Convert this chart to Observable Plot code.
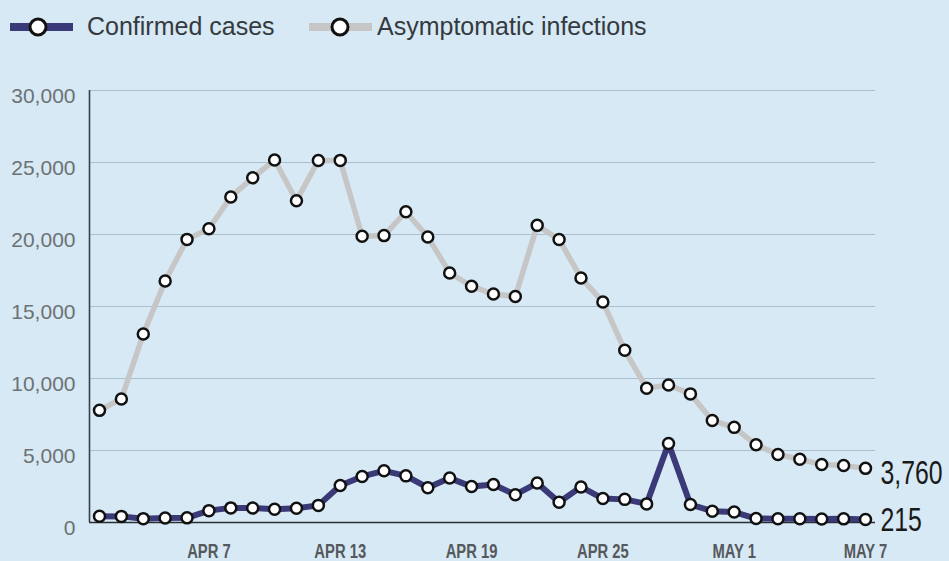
<!DOCTYPE html>
<html>
<head>
<meta charset="utf-8">
<script src="https://cdn.jsdelivr.net/npm/d3@7"></script>
<script src="https://cdn.jsdelivr.net/npm/@observablehq/plot@0.6"></script>
<style>
  html, body { margin: 0; padding: 0; background: #d6e9f4; }
  body { width: 949px; height: 561px; overflow: hidden; font-family: "Liberation Sans", Arial, sans-serif; }
  #legend { height: 55px; position: relative; }
  .item { position: absolute; top: 12px; display: flex; align-items: center; font-size: 25px; color: #353a40; }
  #chart svg { display: block; }
</style>
</head>
<body>
<div id="legend"></div>
<div id="chart"></div>
<script>
// Dates (categories): Apr 2 – May 7, 2022
const startDate = "2022-04-02";
const endDate = "2022-05-07";
const dates = d3.utcDay.range(new Date(startDate), d3.utcDay.offset(new Date(endDate), 1));

// Series values
const asymptomatic = [7788, 8581, 13086, 16766, 19660, 20398, 22609, 23937, 25173, 22348,
  25141, 25146, 19872, 19923, 21582, 19831, 17332, 16407, 15861, 15698,
  20634, 19657, 16983, 15319, 11956, 9330, 9545, 8932, 7084, 6606,
  5395, 4722, 4390, 4024, 3961, 3760];
const confirmed = [438, 425, 268, 311, 322, 824, 1015, 1006, 914, 994,
  1189, 2573, 3200, 3590, 3238, 2417, 3084, 2494, 2634, 1931,
  2736, 1401, 2472, 1661, 1606, 1292, 5487, 1249, 788, 727,
  274, 260, 261, 245, 253, 215];

// Tick labels
const yTicks = [0, 5000, 10000, 15000, 20000, 25000, 30000];
const xTickDates = ["2022-04-07", "2022-04-13", "2022-04-19", "2022-04-25", "2022-05-01", "2022-05-07"];
const xTickLabels = ["APR 7", "APR 13", "APR 19", "APR 25", "MAY 1", "MAY 7"];

const seriesNames = ["Confirmed cases", "Asymptomatic infections"];
const seriesColors = ["#3b3a78", "#c6c6c6"];

const rows = dates.map((d, i) => ({date: d, asym: asymptomatic[i], conf: confirmed[i]}));
const last = rows[rows.length - 1];
const xTicks = xTickDates.map(s => new Date(s));
const fmt = d3.format(",");

// Legend
const legend = document.getElementById("legend");
const legendX = [10, 309];
const legendGap = [14, 5];
const legendCx = [28, 31];
seriesNames.forEach((name, i) => {
  const div = document.createElement("div");
  div.className = "item";
  div.style.left = legendX[i] + "px";
  div.innerHTML = `<svg width="63" height="24" style="margin-right:${legendGap[i]}px"><line x1="0" x2="63" y1="12" y2="12" stroke="${seriesColors[i]}" stroke-width="8"/><circle cx="${legendCx[i]}" cy="12" r="8" fill="white" stroke="#111" stroke-width="3"/></svg><span>${name}</span>`;
  legend.appendChild(div);
});

const plot = Plot.plot({
  width: 949,
  height: 506,
  marginLeft: 89,
  marginRight: 74,
  marginTop: 35,
  marginBottom: 39,
  style: {background: "transparent", fontFamily: "'Liberation Sans', Arial, sans-serif"},
  x: {type: "utc", domain: [new Date(startDate), new Date(endDate)], inset: 10},
  y: {domain: [0, 30000]},
  marks: [
    Plot.ruleY(yTicks.filter(d => d > 0), {stroke: "#a9bfcd", strokeWidth: 1.2}),
    Plot.ruleY([0], {stroke: "#2a2f33", strokeWidth: 1.6}),
    Plot.ruleX([new Date(startDate)], {y1: 0, y2: 30000, dx: -10, stroke: "#3a4047", strokeWidth: 1.6}),
    Plot.axisY({ticks: yTicks, tickSize: 0, tickPadding: 14, tickFormat: d => fmt(d), fontSize: 21, dy: 6, fill: "#6d7175"}),
    Plot.axisX({ticks: xTicks, tickSize: 0, tickPadding: 21, tickFormat: (d, i) => xTickLabels[i], fontSize: 20, fill: "#55585c",
      fontWeight: "bold", className: "narrow"}),
    Plot.line(rows, {x: "date", y: "asym", stroke: seriesColors[1], strokeWidth: 5.5}),
    Plot.dot(rows, {x: "date", y: "asym", r: 5.5, fill: "white", stroke: "#111", strokeWidth: 2.5}),
    Plot.line(rows, {x: "date", y: "conf", stroke: seriesColors[0], strokeWidth: 6}),
    Plot.dot(rows, {x: "date", y: "conf", r: 5.5, fill: "white", stroke: "#111", strokeWidth: 2.5}),
    Plot.text([last], {x: "date", y: "asym", text: d => fmt(d.asym), dx: 15, dy: 5, textAnchor: "start", fontSize: 34, fill: "#1a1a1a", className: "endlabel"}),
    Plot.text([last], {x: "date", y: "conf", text: d => fmt(d.conf), dx: 15, dy: 1, textAnchor: "start", fontSize: 34, fill: "#1a1a1a", className: "endlabel"})
  ]
});

// condense narrow texts horizontally
function condense(sel, k) {
  plot.querySelectorAll(sel).forEach(t => {
    const tr = t.getAttribute("transform");
    if (tr) {
      t.setAttribute("transform", tr + ` scale(${k},1)`);
    } else {
      const x = +(t.getAttribute("x") || 0), y = +(t.getAttribute("y") || 0);
      t.removeAttribute("x"); t.removeAttribute("y");
      t.setAttribute("transform", `translate(${x},${y}) scale(${k},1)`);
    }
  });
}
condense(".endlabel text", 0.73);
condense(".narrow text", 0.74);
document.getElementById("chart").appendChild(plot);
</script>
</body>
</html>
